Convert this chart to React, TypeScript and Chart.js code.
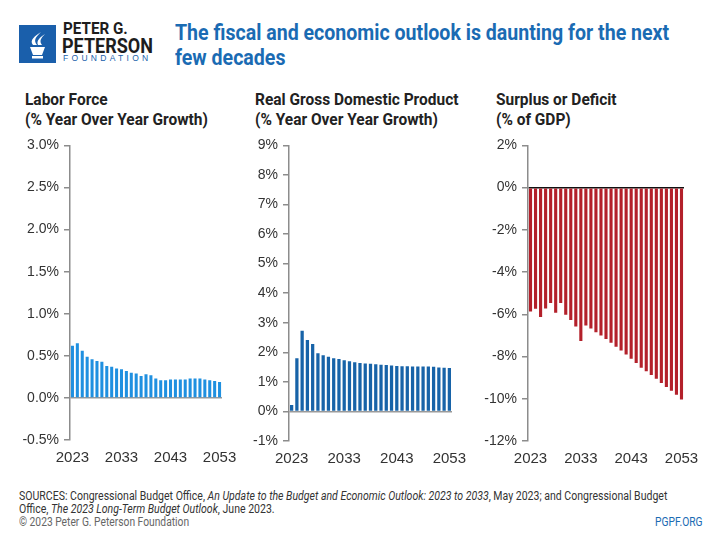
import React, { useEffect, useRef } from "react";
import { Chart, registerables } from "chart.js";
Chart.register(...registerables);

const years = ["2023","2024","2025","2026","2027","2028","2029","2030","2031","2032","2033","2034","2035","2036","2037","2038","2039","2040","2041","2042","2043","2044","2045","2046","2047","2048","2049","2050","2051","2052","2053"];

const laborForce = [0.62,0.65,0.56,0.49,0.46,0.44,0.43,0.38,0.37,0.35,0.34,0.32,0.30,0.29,0.26,0.28,0.27,0.23,0.21,0.21,0.22,0.22,0.22,0.22,0.23,0.23,0.23,0.22,0.21,0.20,0.19];
const realGdp = [0.22,1.80,2.73,2.42,2.28,1.97,1.90,1.85,1.80,1.77,1.73,1.70,1.66,1.64,1.62,1.61,1.60,1.58,1.57,1.55,1.54,1.53,1.53,1.52,1.52,1.52,1.52,1.51,1.49,1.48,1.47];
const deficit = [-5.87,-5.74,-6.13,-5.72,-5.46,-5.92,-5.47,-6.02,-6.27,-6.58,-7.26,-6.53,-6.67,-6.85,-7.00,-7.17,-7.35,-7.54,-7.71,-7.90,-8.10,-8.31,-8.53,-8.70,-8.87,-9.05,-9.25,-9.44,-9.62,-9.81,-10.03];

const shownYears = ["2023", "2033", "2043", "2053"];

const TICK_FONT = "'Liberation Sans', Arial, sans-serif";
const NARROW = "'Roboto', 'Liberation Sans', sans-serif";

type PanelProps = {
  left: number; top: number; width: number; height: number;
  values: number[]; color: string; min: number; max: number; step: number;
  decimals: number; zeroColor: string;
};

function Panel(p: PanelProps) {
  const ref = useRef<HTMLCanvasElement | null>(null);
  useEffect(() => {
    if (!ref.current) return;
    const chart = new Chart(ref.current, {
      type: "bar",
      data: {
        labels: years,
        datasets: [{
          data: p.values,
          backgroundColor: p.color,
          borderWidth: 0,
          barPercentage: 0.62,
          categoryPercentage: 1,
        }],
      },
      options: {
        animation: false,
        responsive: false,
        maintainAspectRatio: false,
        layout: { padding: { top: 10, right: 18, left: 0, bottom: 0 } },
        plugins: { legend: { display: false }, tooltip: { enabled: false } },
        scales: {
          x: {
            type: "category",
            grid: { display: false },
            border: { display: false },
            afterFit: (axis: any) => { axis.height = 29; },
            ticks: {
              autoSkip: false,
              maxRotation: 0,
              minRotation: 0,
              padding: 1,
              color: "#333",
              font: { family: TICK_FONT, size: 15 },
              callback: (_v: any, i: number) => (shownYears.includes(years[i]) ? years[i] : ""),
            },
          },
          y: {
            min: p.min,
            max: p.max,
            z: 1,
            afterFit: (axis: any) => { axis.width = 60; },
            border: { display: true, color: "#8c8c8c", width: 1.5 },
            grid: {
              drawOnChartArea: true,
              drawTicks: true,
              tickLength: 6,
              tickColor: "#8c8c8c",
              lineWidth: 1.5,
              color: (ctx: any) => (ctx.tick && ctx.tick.value === 0 ? p.zeroColor : "rgba(0,0,0,0)"),
            },
            ticks: {
              stepSize: p.step,
              padding: 5,
              color: "#333",
              font: { family: TICK_FONT, size: 14 },
              callback: (v: any) => Number(v).toFixed(p.decimals) + "%",
            },
          },
        },
      } as any,
    });
    return () => chart.destroy();
  }, []);
  return (
    <canvas
      ref={ref}
      width={p.width}
      height={p.height}
      style={{ position: "absolute", left: p.left, top: p.top, width: p.width, height: p.height }}
    />
  );
}

const headerStyle: React.CSSProperties = {
  position: "absolute",
  top: 89,
  fontFamily: NARROW,
  fontWeight: 700,
  fontSize: 17,
  lineHeight: "20px",
  color: "#222",
  whiteSpace: "nowrap",
  transform: "scaleX(0.91)",
  transformOrigin: "left top",
};

const footStyle: React.CSSProperties = {
  position: "absolute",
  fontFamily: NARROW,
  fontSize: 12,
  lineHeight: "13px",
  whiteSpace: "nowrap",
  transform: "scaleX(0.855)",
  transformOrigin: "left top",
};

export default function App() {
  return (
    <div style={{ position: "fixed", left: 0, top: 0, width: 720, height: 540, background: "#fff", overflow: "hidden" }}>
      {/* Logo */}
      <svg style={{ position: "absolute", left: 19, top: 25 }} width={37} height={38} viewBox="0 0 37 38">
        <rect x="0" y="0" width="37" height="38" fill="#1a5fab" />
        <path d="M11 22 L26 22 L23 30 L14 30 Z" fill="#fff" />
        <rect x="13" y="31" width="11" height="2.5" fill="#fff" />
        <path d="M14 20 C10 15 16 11 22 7 C17 12 14 15 18 20 Z" fill="#fff" />
        <path d="M19 20 C17 16 21 12 26 9 C22 13 20 16 23 20 Z" fill="#fff" />
      </svg>
      <div style={{ position: "absolute", left: 63, top: 21, fontFamily: NARROW, fontWeight: 700, fontSize: 16, lineHeight: "16px", color: "#1d1d1d", transform: "scaleX(0.95)", transformOrigin: "left top", whiteSpace: "nowrap" }}>PETER G.</div>
      <div style={{ position: "absolute", left: 62, top: 36, fontFamily: NARROW, fontWeight: 700, fontSize: 20, lineHeight: "20px", color: "#1d1d1d", transform: "scaleX(0.9)", transformOrigin: "left top", whiteSpace: "nowrap" }}>PETERSON</div>
      <div style={{ position: "absolute", left: 63, top: 54, fontFamily: TICK_FONT, fontWeight: 400, fontSize: 8.5, lineHeight: "9px", letterSpacing: "3.3px", color: "#1a5fab", whiteSpace: "nowrap" }}>FOUNDATION</div>

      {/* Title */}
      <div style={{ position: "absolute", left: 175, top: 20, fontFamily: NARROW, fontWeight: 700, fontSize: 21.5, lineHeight: "25px", color: "#1a6bb3", whiteSpace: "nowrap", transform: "scaleX(0.91)", transformOrigin: "left top" }}>
        The fiscal and economic outlook is daunting for the next<br />few decades
      </div>

      {/* Panel headers */}
      <div style={{ ...headerStyle, left: 25 }}>Labor Force<br />(% Year Over Year Growth)</div>
      <div style={{ ...headerStyle, left: 255 }}>Real Gross Domestic Product<br />(% Year Over Year Growth)</div>
      <div style={{ ...headerStyle, left: 496 }}>Surplus or Deficit<br />(% of GDP)</div>

      <Panel left={10} top={132} width={230} height={337} values={laborForce} color="#1f90e0" min={-0.5} max={3} step={0.5} decimals={1} zeroColor="#9a9a9a" />
      <Panel left={229} top={132} width={241} height={338} values={realGdp} color="#1763a8" min={-1} max={9} step={1} decimals={0} zeroColor="#9a9a9a" />
      <Panel left={468} top={132} width={234} height={338} values={deficit} color="#b3202a" min={-12} max={2} step={2} decimals={0} zeroColor="#111" />

      {/* Footer */}
      <div style={{ ...footStyle, left: 19, top: 490, color: "#333", transform: "scaleX(0.877)" }}>
        SOURCES: Congressional Budget Office, <i>An Update to the Budget and Economic Outlook: 2023 to 2033</i>, May 2023; and Congressional Budget<br />
        Office, <i>The 2023 Long-Term Budget Outlook</i>, June 2023.
      </div>
      <div style={{ ...footStyle, left: 19, top: 516, color: "#666" }}>© 2023 Peter G. Peterson Foundation</div>
      <div style={{ ...footStyle, right: 17, top: 516, color: "#1a6bb3", transformOrigin: "right top" }}>PGPF.ORG</div>
    </div>
  );
}
